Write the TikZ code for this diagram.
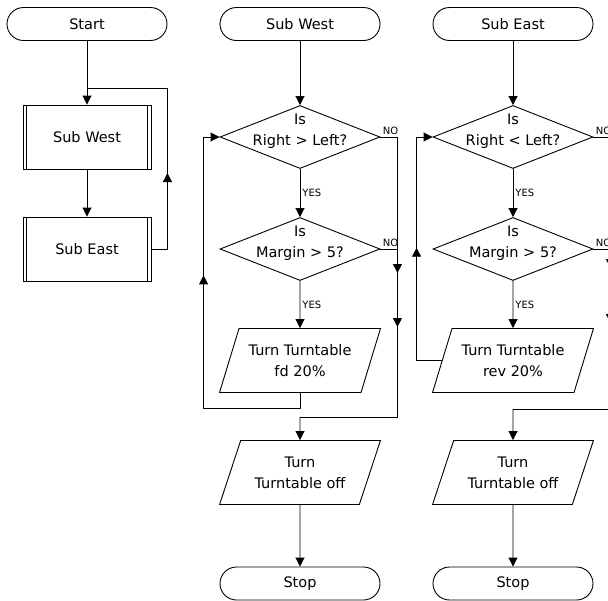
\documentclass[tikz,border=0pt]{standalone}
\usepackage{fontspec}
\setmainfont{DejaVu Sans}
\usetikzlibrary{arrows.meta,positioning,shapes.geometric,calc,decorations.markings}

\begin{document}
\begin{tikzpicture}[x=1pt, y=-1pt, line width=0.9pt,
    term/.style={rectangle, rounded corners=16.5pt, draw, minimum width=160pt, minimum height=33pt,
      font=\fontsize{14.5}{17}\selectfont},
    subproc/.style={rectangle, draw, minimum width=128pt, minimum height=64pt, font=\fontsize{14.5}{17}\selectfont,
      path picture={\draw ([xshift=3.5pt]path picture bounding box.north west) -- ([xshift=3.5pt]path picture bounding box.south west)
        ([xshift=-3.5pt]path picture bounding box.north east) -- ([xshift=-3.5pt]path picture bounding box.south east);}},
    decision/.style={diamond, draw, minimum width=160pt, minimum height=63pt, inner sep=0pt},
    dtext/.style={font=\fontsize{14.5}{21}\selectfont, align=center, yshift=6pt},
    io/.style={trapezium, draw, trapezium left angle=63, trapezium right angle=117, trapezium stretches=true,
      minimum width=161pt, minimum height=64pt, inner sep=0pt, align=center, font=\fontsize{14.5}{21}\selectfont},
    yes/.style={font=\fontsize{10}{12}\selectfont, right, inner sep=2pt},
    no/.style={font=\fontsize{10}{12}\selectfont, anchor=south west, inner sep=2pt, pos=0},
    arr/.style={-{Triangle[length=9pt,width=9pt]}},
    midarrow/.style={postaction={decorate,decoration={markings,
      mark=at position #1 with {\arrow{Triangle[length=9pt,width=9pt]}}}}}
  ]
    \clip (0,0) rectangle (608,600);

    % Main routine
    \node[term]    (start) at (87,24)  {Start};
    \node[subproc] (subw)  at (87,137) {Sub West};
    \node[subproc] (sube)  at (87,249) {Sub East};
    \coordinate (joinM) at (87,88);

    \draw[arr] (start) -- (subw);
    \draw[arr] (subw) -- (sube);
    \draw[midarrow=92pt] (sube.east) -- ++(16,0) |- (joinM);

    % Sub West
    \node[term] (tw) at (300,24) {Sub West};
    \node[decision, label={[dtext]center:Is\\Right > Left?}] (dw1) at (300,137) {};
    \node[decision, label={[dtext]center:Is\\Margin > 5?}]   (dw2) at (300,249) {};
    \node[io]   (fd)   at (300,360.5) {Turn Turntable\\fd 20\%};
    \node[io]   (offw) at (300,472.5) {Turn\\Turntable off};
    \node[term] (stw)  at (300,583.5) {Stop};
    \coordinate (joinW) at (300,417);

    \draw[arr] (tw) -- (dw1);
    \draw[arr] (dw1) -- node[yes] {YES} (dw2);
    \draw[arr] (dw2) -- node[yes] {YES} (fd);
    \draw[midarrow=153pt] (dw1.east) -- node[no] {NO} ++(17,0) |- (joinW);
    \draw[midarrow=95pt]  (dw2.east) -- node[no] {NO} ++(17,0) |- (joinW);
    \draw[arr] (joinW) -- (offw);
    \draw[arr, midarrow=244pt] (fd.south) -- ++(0,15) -| ([xshift=-16pt]dw1.west) -- (dw1.west);
    \draw[arr] (offw) -- (stw);

    % Sub East
    \node[term] (te) at (513,24) {Sub East};
    \node[decision, label={[dtext]center:Is\\Right < Left?}] (de1) at (513,137) {};
    \node[decision, label={[dtext]center:Is\\Margin > 5?}]   (de2) at (513,249) {};
    \node[io]   (rev)  at (513,360.5) {Turn Turntable\\rev 20\%};
    \node[io]   (offe) at (513,472.5) {Turn\\Turntable off};
    \node[term] (ste)  at (513,583.5) {Stop};
    \coordinate (joinE) at (513,409);
    \coordinate (revW) at ($(rev.top left corner)!0.5!(rev.bottom left corner)$);

    \draw[arr] (te) -- (de1);
    \draw[arr] (de1) -- node[yes] {YES} (de2);
    \draw[arr] (de2) -- node[yes] {YES} (rev);
    \draw[midarrow=148pt] (de1.east) -- node[no] {NO} ++(17,0) |- (joinE);
    \draw[midarrow=91pt]  (de2.east) -- node[no] {NO} ++(17,0) |- (joinE);
    \draw[arr] (joinE) -- (offe);
    \draw[arr, midarrow=138pt] (revW) -| ([xshift=-16pt]de1.west) -- (de1.west);
    \draw[arr] (offe) -- (ste);
  \end{tikzpicture}
\end{document}
